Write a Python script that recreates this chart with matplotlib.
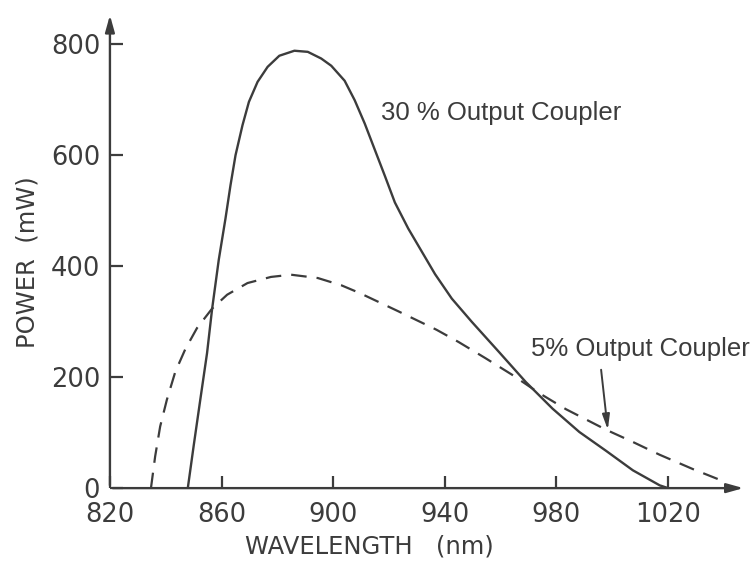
import matplotlib
matplotlib.use("Agg")
import matplotlib.pyplot as plt

# 30% output coupler (solid curve)
wl_30 = [847.9, 850.0, 852.4, 854.8, 856.6, 859.0, 861.4, 863.2, 865.0, 867.5,
         869.8, 872.9, 876.5, 880.7, 886.1, 890.9, 895.7, 899.3, 904.1, 907.7,
         911.3, 914.9, 918.5, 922.1, 926.9, 931.7, 936.5, 942.5, 949.7, 959.4,
         969.0, 978.6, 988.2, 997.8, 1007.4, 1017.0, 1020.0]
p_30 = [0, 76, 160, 243, 322, 411, 485, 545, 599, 653,
        695, 731, 758, 778, 787, 785, 773, 760, 733, 698,
        656, 609, 562, 514, 467, 426, 385, 341, 299, 245,
        191, 143, 101, 67, 32, 5, 0]

# 5% output coupler (dashed curve)
wl_5 = [834.7, 836.2, 838.0, 840.4, 843.4, 847.0, 851.2, 856.6, 862.0, 869.3,
        877.7, 884.9, 894.5, 902.9, 909.5, 923.4, 937.0, 944.9, 954.5, 964.1,
        973.8, 983.4, 997.8, 1007.4, 1017.0, 1029.0, 1041.0]
p_5 = [0, 57, 111, 159, 209, 250, 288, 323, 348, 369,
       380, 384, 378, 365, 351, 318, 285, 263, 234, 204,
       171, 142, 105, 83, 60, 34, 10]

xticks = [820, 860, 900, 940, 980, 1020]
xticklabels = ["820", "860", "900", "940", "980", "1020"]
yticks = [0, 200, 400, 600, 800]

ink = "#3c3c3c"
plt.rcParams["font.family"] = "DejaVu Sans"

fig = plt.figure(figsize=(7.53, 5.63), dpi=100)
ax = fig.add_axes([0.146, 0.133, 0.845, 0.845])

ax.plot(wl_30, p_30, color=ink, lw=1.7, solid_capstyle="round",
        solid_joinstyle="round")
ax.plot(wl_5, p_5, color=ink, lw=1.6, dashes=(7, 4.5))

ax.set_xlim(820, 1048)
ax.set_ylim(0, 856)
for s in ax.spines.values():
    s.set_visible(False)

# axes drawn as arrows
arrow = dict(arrowstyle="-|>,head_length=1.0,head_width=0.28", color=ink, lw=1.7)
ax.annotate("", xy=(1, 0), xytext=(0, 0), xycoords="axes fraction",
            arrowprops=arrow, annotation_clip=False)
ax.annotate("", xy=(0, 1), xytext=(0, 0), xycoords="axes fraction",
            arrowprops=arrow, annotation_clip=False)

ax.set_xticks(xticks)
ax.set_xticklabels(xticklabels)
ax.set_yticks(yticks)
ax.tick_params(direction="in", length=9, width=1.6, color=ink,
               labelcolor=ink, labelsize=18.5)
ax.tick_params(axis="x", pad=10)
ax.tick_params(axis="y", pad=7)

ax.set_xlabel("WAVELENGTH   (nm)", fontsize=17.5, color=ink, labelpad=5,
              x=0.407)
ax.set_ylabel("POWER  (mW)", fontsize=17.5, color=ink, labelpad=8, y=0.475)

note_font = ["Liberation Sans", "DejaVu Sans"]
ax.text(917, 675, "30 % Output Coupler", fontsize=18.5, color=ink,
        va="center", ha="left", family=note_font)
ax.text(971, 251, "5% Output Coupler", fontsize=18.5, color=ink,
        va="center", ha="left", family=note_font)
ax.annotate("", xy=(998.4, 105), xytext=(996, 213),
            arrowprops=dict(arrowstyle="-|>,head_length=0.9,head_width=0.22",
                            color=ink, lw=1.4, shrinkA=0, shrinkB=0))

fig.savefig("out.png", dpi=100)
